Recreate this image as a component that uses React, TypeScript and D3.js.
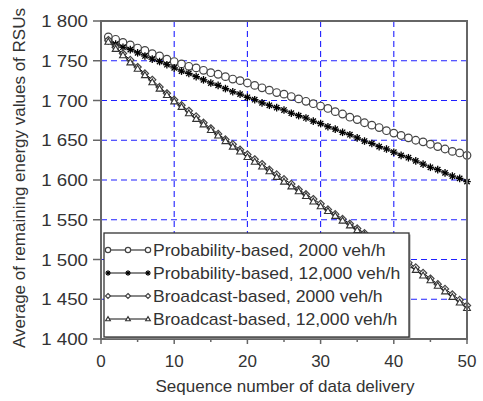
import React from "react";
import * as d3 from "d3";

const seq: number[] = d3.range(1, 51);

const prob2000: number[] = [
  1780, 1777, 1773, 1770, 1766, 1763, 1759, 1756, 1752, 1749,
  1746, 1743, 1741, 1738, 1735, 1733, 1730, 1727, 1725, 1722,
  1719, 1716, 1713, 1710, 1708, 1705, 1702, 1699, 1696, 1693,
  1690, 1686, 1683, 1679, 1676, 1672, 1669, 1666, 1662, 1659,
  1656, 1653, 1650, 1648, 1645, 1642, 1639, 1636, 1634, 1631,
];
const prob12000: number[] = [
  1775, 1771, 1767, 1764, 1760, 1756, 1752, 1749, 1745, 1741,
  1737, 1734, 1730, 1726, 1722, 1719, 1715, 1711, 1708, 1704,
  1701, 1697, 1694, 1691, 1688, 1684, 1681, 1678, 1674, 1671,
  1667, 1664, 1660, 1657, 1653, 1649, 1646, 1642, 1639, 1635,
  1631, 1628, 1624, 1620, 1616, 1613, 1609, 1605, 1602, 1598,
];
const broad2000: number[] = [
  1776, 1767, 1759, 1751, 1742, 1734, 1726, 1717, 1709, 1701,
  1694, 1687, 1680, 1672, 1665, 1658, 1651, 1645, 1638, 1632,
  1626, 1620, 1613, 1607, 1601, 1595, 1588, 1582, 1576, 1570,
  1563, 1557, 1551, 1545, 1539, 1533, 1527, 1521, 1515, 1509,
  1503, 1496, 1490, 1483, 1476, 1469, 1463, 1456, 1449, 1442,
];
const broad12000: number[] = [
  1774, 1765, 1757, 1748, 1740, 1732, 1723, 1715, 1707, 1699,
  1692, 1684, 1677, 1670, 1663, 1656, 1649, 1642, 1636, 1629,
  1623, 1617, 1611, 1604, 1598, 1592, 1586, 1580, 1573, 1567,
  1561, 1555, 1549, 1543, 1537, 1531, 1525, 1519, 1512, 1506,
  1500, 1493, 1487, 1480, 1474, 1467, 1460, 1453, 1446, 1439,
];

const seriesNames: string[] = [
  "Probability-based, 2000 veh/h",
  "Probability-based, 12,000 veh/h",
  "Broadcast-based, 2000 veh/h",
  "Broadcast-based, 12,000 veh/h",
];
const markerKinds: string[] = ["circle", "star", "diamond", "triangle"];

const xTicks: number[] = [0, 10, 20, 30, 40, 50];
const xMinorTicks: number[] = [5, 15, 25, 35, 45];
const yTicks: number[] = [1400, 1450, 1500, 1550, 1600, 1650, 1700, 1750, 1800];
const yTickLabels: string[] = ["1 400", "1 450", "1 500", "1 550", "1 600", "1 650", "1 700", "1 750", "1 800"];

const W = 483;
const H = 401;
const L = 101, R = 467, T = 21, B = 339;
const FONT = "'Liberation Sans', Arial, sans-serif";
const TXT = "#333";

function Marker({ kind, x, y, k = 1 }: { kind: string; x: number; y: number; k?: number }) {
  if (kind === "circle") {
    return <circle cx={x} cy={y} r={3.8 * k} fill="#fff" stroke="#444" strokeWidth={1.2} />;
  }
  if (kind === "star") {
    const s = 3.8 * k;
    const d = s * 0.7;
    return (
      <g stroke="#000" strokeWidth={1.3}>
        <line x1={x - s} y1={y} x2={x + s} y2={y} />
        <line x1={x} y1={y - s} x2={x} y2={y + s} />
        <line x1={x - d} y1={y - d} x2={x + d} y2={y + d} />
        <line x1={x - d} y1={y + d} x2={x + d} y2={y - d} />
      </g>
    );
  }
  if (kind === "diamond") {
    const s = 3.6 * k;
    return (
      <path
        d={`M${x},${y - s}L${x + s},${y}L${x},${y + s}L${x - s},${y}Z`}
        fill="#fff"
        stroke="#444"
        strokeWidth={1.2}
      />
    );
  }
  const s = 3.4 * k;
  return (
    <path
      d={`M${x},${y - s}L${x + s},${y + s * 0.75}L${x - s},${y + s * 0.75}Z`}
      fill="#fff"
      stroke="#333"
      strokeWidth={1.1}
    />
  );
}

export default function App() {
  const x = d3.scaleLinear().domain([0, 50]).range([L, R]);
  const y = d3.scaleLinear().domain([1400, 1800]).range([B, T]);
  const allSeries = [prob2000, prob12000, broad2000, broad12000];
  const line = d3
    .line<number>()
    .x((_, i) => x(seq[i]))
    .y((v) => y(v));

  const legX = 104, legY = 233, legW = 305, legH = 104;
  const rowY = [250, 273, 296, 319];
  const legendMarkerX = [108, 128, 148];

  return (
    <svg
      width={W}
      height={H}
      style={{ position: "absolute", left: 0, top: 0, background: "#fff" }}
      fontFamily={FONT}
    >
      <rect x={0} y={0} width={W} height={H} fill="#fff" />
      {/* grid */}
      <g stroke="#2020ff" strokeWidth={1.1} strokeDasharray="6,4">
        {xTicks
          .filter((t) => t > 0 && t < 50)
          .map((t) => (
            <line key={"gx" + t} x1={x(t)} x2={x(t)} y1={T} y2={B} />
          ))}
        {yTicks
          .filter((t) => t > 1400 && t < 1800)
          .map((t) => (
            <line key={"gy" + t} x1={L} x2={R} y1={y(t)} y2={y(t)} />
          ))}
      </g>
      {/* data */}
      {allSeries.map((s, si) => (
        <g key={"s" + si}>
          <path d={line(s) || ""} fill="none" stroke="#111" strokeWidth={1} />
          {s.map((v, i) => (
            <Marker key={i} kind={markerKinds[si]} x={x(seq[i])} y={y(v)} />
          ))}
        </g>
      ))}
      {/* frame */}
      <rect x={L} y={T} width={R - L} height={B - T} fill="none" stroke="#666" strokeWidth={2} />
      {/* ticks */}
      <g stroke="#666" strokeWidth={1.5}>
        {yTicks.map((t) => (
          <line key={"yt" + t} x1={L - 8} x2={L} y1={y(t)} y2={y(t)} />
        ))}
        {xTicks.map((t) => (
          <line key={"xt" + t} x1={x(t)} x2={x(t)} y1={B} y2={B + 5} />
        ))}
        {xMinorTicks.map((t) => (
          <line key={"xm" + t} x1={x(t)} x2={x(t)} y1={B} y2={B + 3} />
        ))}
      </g>
      <g fill={TXT} fontSize={17}>
        {yTicks.map((t, i) => (
          <text
            key={"yl" + t}
            transform={`translate(${L - 13},${y(t)}) scale(1.1,1)`}
            dy="0.36em"
            textAnchor="end"
          >
            {yTickLabels[i]}
          </text>
        ))}
        {xTicks.map((t) => (
          <text key={"xl" + t} x={x(t)} y={367} textAnchor="middle">
            {t}
          </text>
        ))}
      </g>
      <text x={(L + R) / 2 + 1} y={392} textAnchor="middle" fontSize={17} fill={TXT}>
        Sequence number of data delivery
      </text>
      <text
        transform={`translate(25,${(T + B) / 2 - 2}) rotate(-90)`}
        textAnchor="middle"
        fontSize={17}
        fill={TXT}
      >
        Average of remaining energy values of RSUs
      </text>
      {/* legend */}
      <rect x={legX + 1.5} y={legY + 1.5} width={legW} height={legH} fill="#999" />
      <rect x={legX} y={legY} width={legW} height={legH} fill="#fff" stroke="#333" strokeWidth={1.3} />
      {seriesNames.map((n, i) => (
        <g key={"lg" + i}>
          <line x1={legendMarkerX[0]} x2={legendMarkerX[2]} y1={rowY[i]} y2={rowY[i]} stroke="#111" strokeWidth={1} />
          {legendMarkerX.map((mx, j) => (
            <Marker key={j} kind={markerKinds[i]} x={mx} y={rowY[i]} k={0.7} />
          ))}
          <text
            transform={`translate(153,${rowY[i]}) scale(1.1,1)`}
            dy="0.36em"
            fontSize={16}
            fill={TXT}
          >
            {n}
          </text>
        </g>
      ))}
    </svg>
  );
}
